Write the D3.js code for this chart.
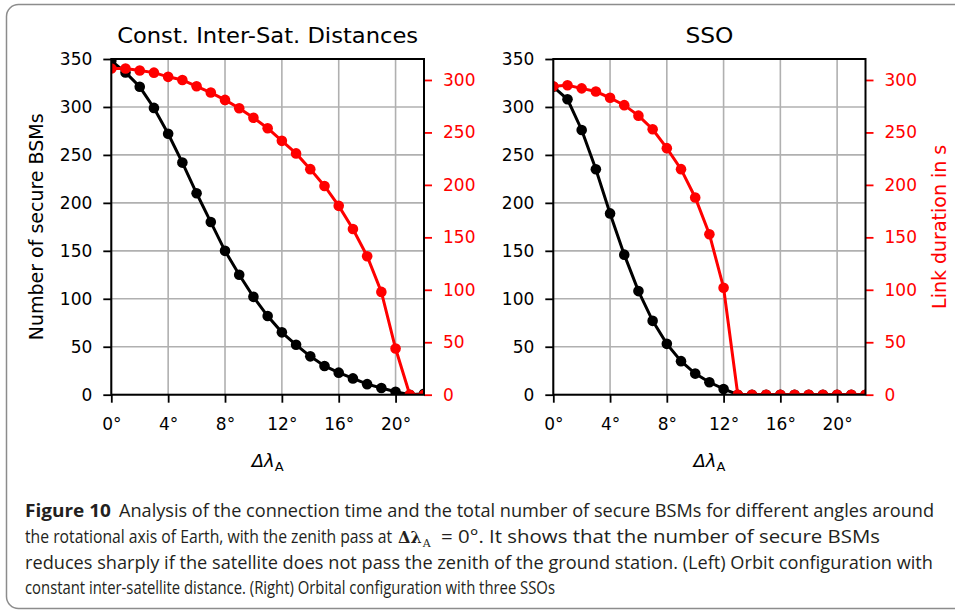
<!DOCTYPE html>
<html>
<head>
<meta charset="utf-8">
<script src="https://cdn.jsdelivr.net/npm/d3@7"></script>
<style>
  body { margin: 0; background: #fff; }
  svg text { font-family: "DejaVu Sans", sans-serif; }
</style>
</head>
<body>
<div id="chart"></div>
<script>
const width = 955
const height = 613

// Data
const degrees = [0, 1, 2, 3, 4, 5, 6, 7, 8, 9, 10, 11, 12, 13, 14, 15, 16, 17, 18, 19, 20, 21, 22]
const constBSM = [348, 336, 321, 299, 272, 242, 210, 180, 150, 125, 102, 82, 65, 52, 40, 30, 23, 17, 11, 7, 3, 0, 1]
const constLink = [311, 311, 309, 307, 303, 300, 294, 288, 281, 273, 264, 254, 242, 230, 215, 199, 180, 158, 132, 98, 44, 0, 0]
const ssoBSM = [321, 308, 276, 235, 189, 146, 108, 77, 53, 35, 22, 13, 6, 0, 0, 0, 0, 0, 0, 0, 0, 0, 0]
const ssoLink = [294, 295, 292, 289, 283, 276, 266, 253, 235, 215, 188, 153, 102, 0, 0, 0, 0, 0, 0, 0, 0, 0, 0]

const xTicks = [0, 4, 8, 12, 16, 20]
const leftTicks = [0, 50, 100, 150, 200, 250, 300, 350]
const rightTicks = [0, 50, 100, 150, 200, 250, 300]
const titles = ["Const. Inter-Sat. Distances", "SSO"]

const captionLines = [
  "Analysis of the connection time and the total number of secure BSMs for different angles around",
  "the rotational axis of Earth, with the zenith pass at",
  "= 0°. It shows that the number of secure BSMs",
  "reduces sharply if the satellite does not pass the zenith of the ground station. (Left) Orbit configuration with",
  "constant inter-satellite distance. (Right) Orbital configuration with three SSOs"
]

const svg = d3.select("#chart")
  .append("svg")
  .attr("width", width)
  .attr("height", height)

// rounded frame around the whole figure
svg.append("rect")
  .attr("x", 6.5).attr("y", 4.5)
  .attr("width", 990).attr("height", 604)
  .attr("rx", 12)
  .attr("fill", "none")
  .attr("stroke", "#8c8c8c")
  .attr("stroke-width", 1.5)

const plotTop = 59
const plotBottom = 394.7

const y = d3.scaleLinear().domain([0, 350]).range([plotBottom, plotTop])
const y2 = d3.scaleLinear().domain([0, 320]).range([plotBottom, plotTop])

function drawPanel(id, left, right, title, titleLen, bsm, link, showLeftLabel, showRightLabel) {
  const x = d3.scaleLinear().domain([0, 22]).range([left, right])
  const g = svg.append("g").attr("id", id)

  svg.append("clipPath").attr("id", id + "-clip")
    .append("rect")
    .attr("x", left).attr("y", plotTop)
    .attr("width", right - left).attr("height", plotBottom - plotTop)

  // grid
  const grid = g.append("g").attr("stroke", "#b0b0b0").attr("stroke-width", 1.6)
  grid.selectAll("line.v").data(xTicks).join("line")
    .attr("class", "v")
    .attr("x1", d => x(d)).attr("x2", d => x(d))
    .attr("y1", plotTop).attr("y2", plotBottom)
  grid.selectAll("line.h").data(leftTicks).join("line")
    .attr("class", "h")
    .attr("x1", left).attr("x2", right)
    .attr("y1", d => y(d)).attr("y2", d => y(d))

  const plot = g.append("g").attr("clip-path", `url(#${id}-clip)`)

  // black: secure BSMs
  const lineB = d3.line().x((d, i) => x(degrees[i])).y(d => y(d))
  plot.append("path").datum(bsm)
    .attr("d", lineB)
    .attr("fill", "none").attr("stroke", "#000").attr("stroke-width", 3)
  plot.append("g").selectAll("circle").data(bsm).join("circle")
    .attr("cx", (d, i) => x(degrees[i])).attr("cy", d => y(d))
    .attr("r", 5.3).attr("fill", "#000")

  // red: link duration (twin axis)
  const lineR = d3.line().x((d, i) => x(degrees[i])).y(d => y2(d))
  plot.append("path").datum(link)
    .attr("d", lineR)
    .attr("fill", "none").attr("stroke", "#ff0000").attr("stroke-width", 3)
  plot.append("g").selectAll("circle").data(link).join("circle")
    .attr("cx", (d, i) => x(degrees[i])).attr("cy", d => y2(d))
    .attr("r", 5.3).attr("fill", "#ff0000")

  // axes
  const xAxis = d3.axisBottom(x).tickValues(xTicks).tickFormat(d => d + "°")
    .tickSize(8).tickSizeOuter(0).tickPadding(15)
  const yAxis = d3.axisLeft(y).tickValues(leftTicks).tickSize(8).tickSizeOuter(0).tickPadding(11)
  const y2Axis = d3.axisRight(y2).tickValues(rightTicks).tickSize(8).tickSizeOuter(0).tickPadding(11)

  const xg = g.append("g").attr("transform", `translate(0,${plotBottom})`).call(xAxis)
  const yg = g.append("g").attr("transform", `translate(${left},0)`).call(yAxis)
  const y2g = g.append("g").attr("transform", `translate(${right},0)`).call(y2Axis)

  for (const a of [xg, yg, y2g]) {
    a.select(".domain").remove()
    a.selectAll("text").attr("font-size", 17).attr("font-family", "DejaVu Sans")
    a.selectAll("line").attr("stroke-width", 1.8)
  }
  y2g.selectAll("line").attr("stroke", "#ff0000")
  y2g.selectAll("text").attr("fill", "#ff0000")

  // spines
  g.append("rect")
    .attr("x", left).attr("y", plotTop)
    .attr("width", right - left).attr("height", plotBottom - plotTop)
    .attr("fill", "none").attr("stroke", "#000").attr("stroke-width", 2)

  // title
  g.append("text")
    .attr("x", (left + right) / 2 - titleLen / 2).attr("y", 43)
    .attr("font-size", 22)
    .attr("textLength", titleLen).attr("lengthAdjust", "spacingAndGlyphs")
    .text(title)

  // x label: Δλ_A
  const xl = g.append("text")
    .attr("x", (left + right) / 2).attr("y", 467)
    .attr("text-anchor", "middle")
    .attr("font-size", 18)
  xl.append("tspan").attr("font-style", "italic").text("Δλ")
  xl.append("tspan").attr("font-size", 13).attr("dy", 4).text("A")

  if (showLeftLabel) {
    g.append("text")
      .attr("transform", `translate(43,${(plotTop + plotBottom) / 2}) rotate(-90)`)
      .attr("text-anchor", "middle")
      .attr("font-size", 19)
      .text("Number of secure BSMs")
  }
  if (showRightLabel) {
    g.append("text")
      .attr("transform", `translate(946,${(plotTop + plotBottom) / 2}) rotate(-90)`)
      .attr("text-anchor", "middle")
      .attr("font-size", 19)
      .attr("fill", "#ff0000")
      .text("Link duration in s")
  }
}

drawPanel("left", 111.3, 424, titles[0], 301, constBSM, constLink, true, false)
drawPanel("right", 553.3, 865.5, titles[1], 48, ssoBSM, ssoLink, false, true)

// caption: each piece fitted to the extent it has in the figure
const cap = svg.append("g").attr("fill", "#231f20")
const capFont = "'Open Sans', sans-serif"

function capText(str, x0, x1, yy, bold) {
  cap.append("text")
    .attr("x", x0).attr("y", yy)
    .style("font-family", capFont)
    .attr("font-size", 17.5)
    .attr("font-weight", bold ? "bold" : null)
    .attr("textLength", x1 - x0).attr("lengthAdjust", "spacingAndGlyphs")
    .text(str)
}

capText("Figure 10", 25, 111, 517, true)
capText(captionLines[0], 119, 934, 517)

capText(captionLines[1], 25, 392, 543)
const math = cap.append("text").attr("x", 398).attr("y", 543)
  .style("font-family", "'DejaVu Serif', serif").attr("font-size", 16)
math.append("tspan").attr("font-weight", "bold").text("Δλ")
math.append("tspan").attr("font-size", 11).attr("dx", 1).attr("dy", 4).text("A")
capText(captionLines[2], 441, 880, 543)

capText(captionLines[3], 25, 933, 569)
capText(captionLines[4], 25, 555, 594)
</script>
</body>
</html>
